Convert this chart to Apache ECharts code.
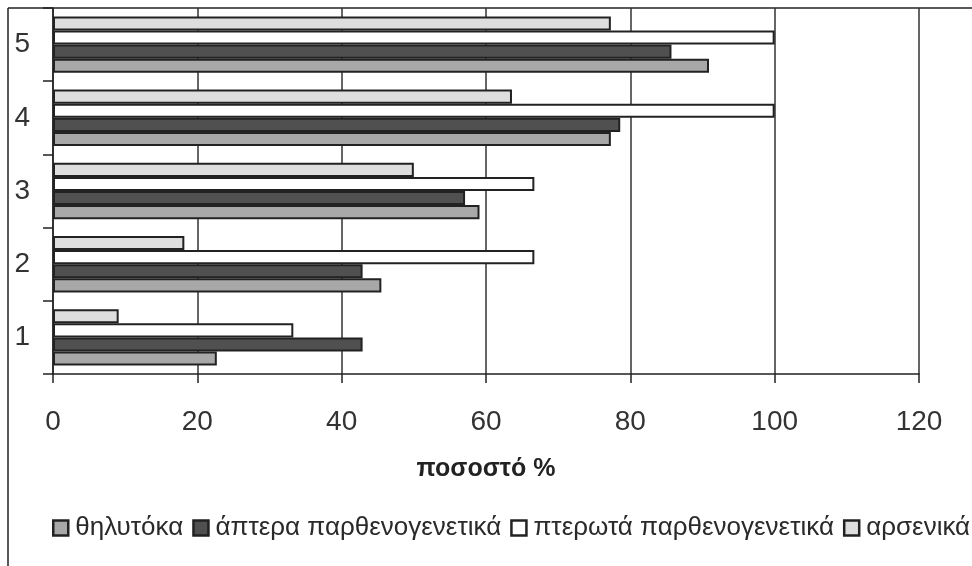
<!DOCTYPE html>
<html>
<head>
<meta charset="utf-8">
<script src="https://cdn.jsdelivr.net/npm/echarts@6/dist/echarts.min.js"></script>
<style>
html,body{margin:0;padding:0;background:#fff;}
#chart{width:972px;height:566px;}
</style>
</head>
<body>
<div id="chart"></div>
<script>
const categories = ['1', '2', '3', '4', '5'];
const xTicks = [0, 20, 40, 60, 80, 100, 120];
const seriesNames = ['θηλυτόκα', 'άπτερα παρθενογενετικά', 'πτερωτά παρθενογενετικά', 'αρσενικά'];
const thelytoka = [22.7, 45.5, 59.1, 77.3, 90.9];
const aptera = [42.9, 42.9, 57.1, 78.6, 85.7];
const pterota = [33.3, 66.7, 66.7, 100, 100];
const arsenika = [9.1, 18.2, 50.0, 63.6, 77.3];
const axisTitle = 'ποσοστό %';

const colors = ['#a8a8a8', '#505050', '#ffffff', '#dedede'];
const values = [thelytoka, aptera, pterota, arsenika];

const chart = echarts.init(document.getElementById('chart'), null, {renderer: 'canvas'});
const font = '"Liberation Sans", Arial, sans-serif';

// ECharts stacks horizontal bars top-down in series order; the reference
// has the first legend entry at the bottom, so add series in reverse.
const order = [3, 2, 1, 0];

chart.setOption({
  animation: false,
  backgroundColor: '#fff',
  textStyle: {fontFamily: font},
  grid: {left: 53, right: 53, top: 8, bottom: 192, containLabel: false},
  graphic: [
    {type: 'line', shape: {x1: 8, y1: 8, x2: 972, y2: 8}, style: {stroke: '#222', lineWidth: 1.5}},
    {type: 'line', shape: {x1: 8, y1: 8, x2: 8, y2: 566}, style: {stroke: '#222', lineWidth: 1.5}}
  ],
  xAxis: {
    type: 'value',
    min: xTicks[0],
    max: xTicks[xTicks.length - 1],
    interval: xTicks[1] - xTicks[0],
    name: axisTitle,
    nameLocation: 'middle',
    nameGap: 83,
    nameTextStyle: {fontSize: 25, fontWeight: 'bold', color: '#222', fontFamily: font},
    axisLine: {show: true, lineStyle: {color: '#222', width: 1.5}},
    axisTick: {show: true, length: 9, lineStyle: {color: '#222', width: 1.5}},
    axisLabel: {fontSize: 28, color: '#333', margin: 34, fontFamily: font},
    splitLine: {show: true, lineStyle: {color: '#333', width: 1.5}}
  },
  yAxis: {
    type: 'category',
    data: categories,
    axisLine: {show: true, lineStyle: {color: '#222', width: 1.5}},
    axisTick: {show: true, length: 10, lineStyle: {color: '#222', width: 1.5}},
    axisLabel: {fontSize: 28, color: '#333', margin: 23, fontFamily: font},
    splitLine: {show: false}
  },
  legend: {
    data: seriesNames,
    orient: 'horizontal',
    left: 47,
    top: 510,
    width: 1400,
    itemWidth: 15,
    itemHeight: 15,
    itemGap: 9,
    icon: 'rect',
    itemStyle: {borderColor: '#222', borderWidth: 2.5},
    textStyle: {fontSize: 26, color: '#2a2a2a', fontFamily: font, padding: [0, 0, 0, 2]}
  },
  series: order.map(i => ({
    name: seriesNames[i],
    type: 'bar',
    data: values[i],
    barGap: '0%',
    barCategoryGap: '23%',
    itemStyle: {color: colors[i], borderColor: '#222', borderWidth: 2}
  }))
});
</script>
</body>
</html>
